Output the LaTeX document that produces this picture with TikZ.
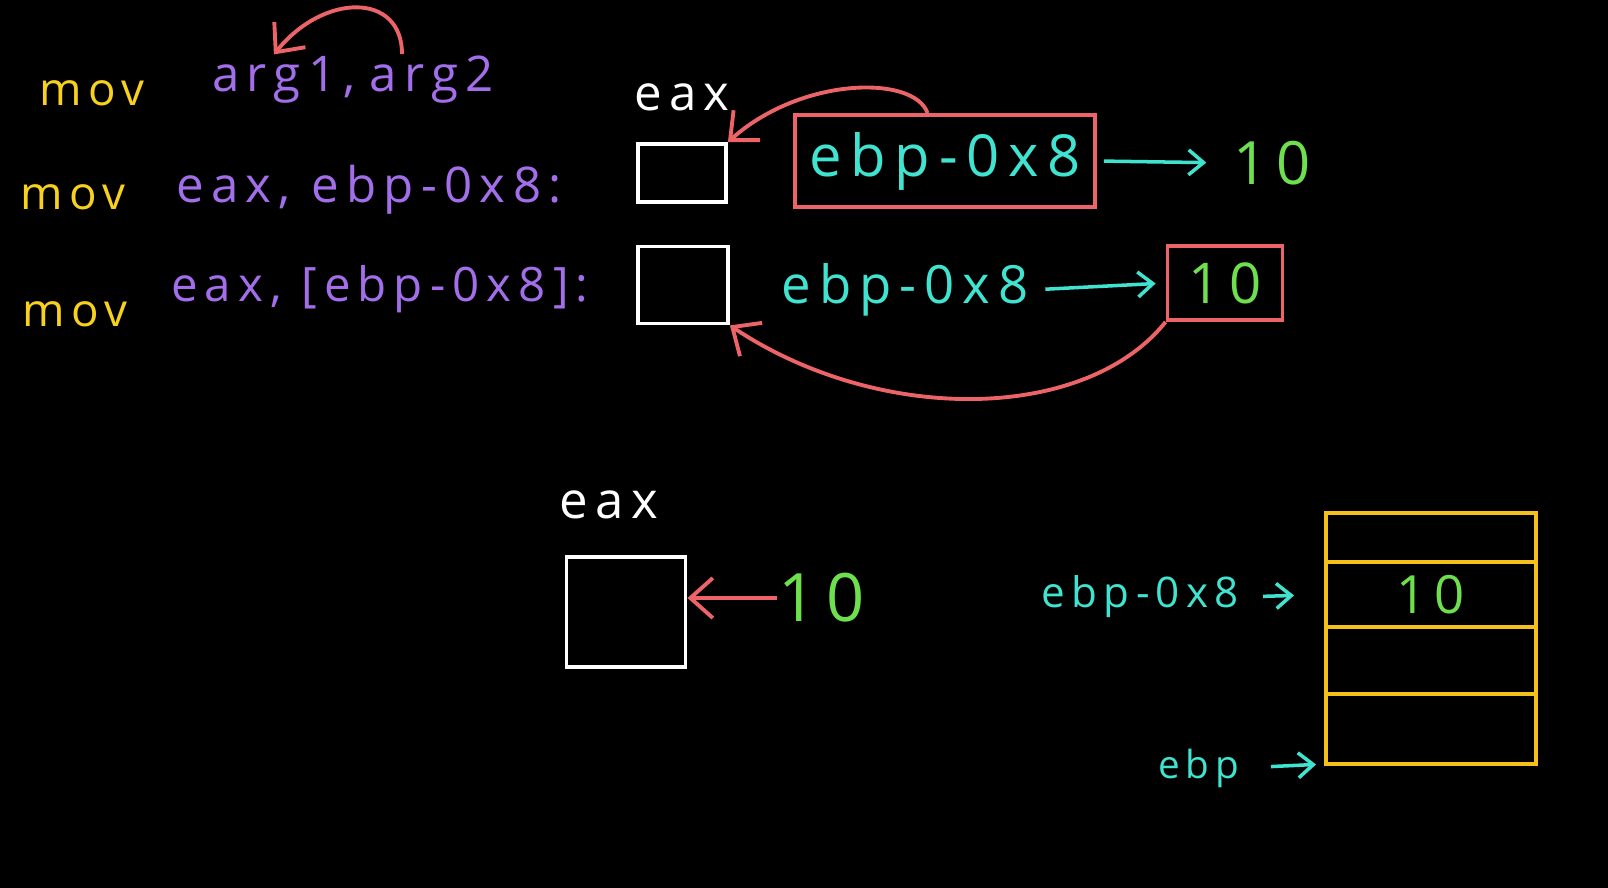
\documentclass[tikz,border=0pt]{standalone}
\usepackage{fontspec}
\usepackage{tikz}
\usetikzlibrary{arrows.meta,positioning}
\newfontfamily\handfont[LetterSpace=15]{Open Sans}
\definecolor{movyellow}{HTML}{F7D11E}
\definecolor{argpurple}{HTML}{A36EEA}
\definecolor{handcyan}{HTML}{40E3D0}
\definecolor{handgreen}{HTML}{6EE04E}
\definecolor{handred}{HTML}{EC6468}
\definecolor{stackyellow}{HTML}{F5C01A}

\begin{document}
\begin{tikzpicture}[x=0.02cm, y=-0.02cm,
  hand/.style={font=\handfont\fontsize{#1}{#1}\selectfont, inner sep=1pt},
  regbox/.style={draw=white, line width=2.2pt},
  ptrbox/.style={draw=handred, line width=2.2pt},
  cell/.style={draw=stackyellow, line width=2.2pt, minimum width=4.2cm,
    anchor=north, outer sep=0pt},
  redarrow/.style={draw=handred, line width=2.2pt,
    -{Straight Barb[length=4.5mm, width=8mm]}},
  cyanarrow/.style={draw=handcyan, line width=2pt,
    -{Straight Barb[length=3mm, width=5mm]}},
]
  \useasboundingbox (0,0) rectangle (1608,888);
  \fill[black] (0,0) rectangle (1608,888);

  % general form
  \node[hand=26pt, text=movyellow] (mov0) at (92,93) {mov};
  \node[hand=28pt, text=argpurple, anchor=west] (arg1) at (210,80) {arg1,};
  \node[hand=28pt, text=argpurple, right=0.2cm of arg1] (arg2) {arg2};
  \draw[redarrow] ([xshift=-0.6cm]arg2.north) .. controls +(0,-62) and +(50,-62) .. ([xshift=-0.2cm]arg1.north);

  % mov eax, ebp-0x8
  \node[hand=28pt, text=white] (eax1) at (682,97) {eax};
  \node[hand=26pt, text=movyellow] (mov1) at (73,197) {mov};
  \node[hand=28pt, text=argpurple, anchor=west] (ins1) at (174,190) {eax, ebp-0x8:};
  \node[regbox, minimum width=1.76cm, minimum height=1.16cm] (reg1) at (682,173) {};
  \node[ptrbox, minimum width=6cm, minimum height=1.84cm, hand=33pt, text=handcyan] (ptr1) at (945,161) {ebp-0x8};
  \node[hand=34pt, text=handgreen] (val1) at (1272,163) {10};
  \draw[cyanarrow, shorten <=0.14cm, shorten >=0.5cm] (ptr1.east) -- (val1.west);
  \draw[redarrow] ([xshift=-0.35cm]ptr1.north) .. controls +(-13,-38) and +(74,-66) .. (reg1.north east);

  % mov eax, [ebp-0x8]
  \node[hand=26pt, text=movyellow] (mov2) at (75,314) {mov};
  \node[hand=27pt, text=argpurple, anchor=west] (ins2) at (169,289) {eax, [ebp-0x8]:};
  \node[regbox, minimum width=1.8cm, minimum height=1.54cm] (reg2) at (683,285) {};
  \node[hand=30pt, text=handcyan] (ptr2) at (905,290) {ebp-0x8};
  \node[ptrbox, minimum width=2.3cm, minimum height=1.48cm, hand=32pt, text=handgreen] (val2) at (1225,283) {10};
  \draw[cyanarrow, shorten <=0.3cm, shorten >=0.2cm] (ptr2.east) -- (val2.west);
  \draw[redarrow] (val2.south west) .. controls +(-80,100) and +(150,100) .. (reg2.south east);

  % register gets the value
  \node[hand=29pt, text=white] (eax3) at (609,505) {eax};
  \node[regbox, minimum width=2.38cm, minimum height=2.2cm] (reg3) at (626,612) {};
  \node[hand=38pt, text=handgreen] (val3) at (822,598) {10};
  \draw[redarrow] (val3.west) -- (val3.west -| reg3.east);

  % stack
  \node[cell, minimum height=0.98cm] (cell1) at (1431,513) {};
  \node[cell, minimum height=1.3cm] (cell2) at (cell1.south) {};
  \node[cell, minimum height=1.34cm] (cell3) at (cell2.south) {};
  \node[cell, minimum height=1.4cm] (cell4) at (cell3.south) {};
  \node[hand=30pt, text=handgreen] (stk10) at (cell2) {10};
  \node[hand=24pt, text=handcyan, anchor=east] (lbl8) at (1241,597) {ebp-0x8};
  \node[hand=22pt, text=handcyan, anchor=east] (lblebp) at (1241,768) {ebp};
  \draw[cyanarrow, shorten <=0.44cm, shorten >=0.64cm] (lbl8.east) -- (cell2.west);
  \draw[cyanarrow, shorten <=0.6cm, shorten >=0.2cm] (lblebp.east) -- (cell4.south west);
\end{tikzpicture}
\end{document}
